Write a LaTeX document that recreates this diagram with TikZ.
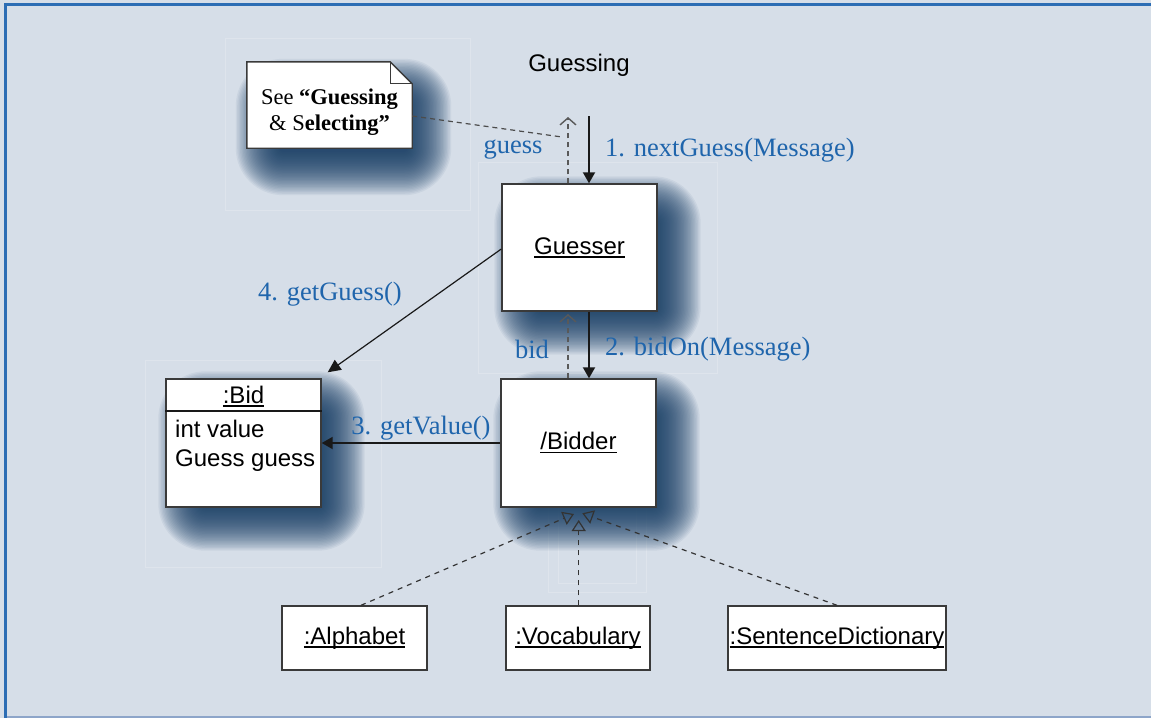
\documentclass[tikz,border=0pt]{standalone}
\usepackage{fontspec}
\setmainfont{Liberation Serif}
\setsansfont{Liberation Sans}
\usetikzlibrary{arrows.meta,calc}
\definecolor{bgc}{HTML}{D6DEE8}
\definecolor{frameblue}{HTML}{2C6DB4}
\definecolor{framelight}{HTML}{8DA5C9}
\definecolor{lab}{HTML}{1F65AC}
\definecolor{shad}{HTML}{123A62}
\definecolor{boxline}{HTML}{3A3A3A}
\pgfdeclarelayer{bgfill}
\pgfdeclarelayer{shadowlayer}
\pgfsetlayers{bgfill,shadowlayer,main}
\newcommand\uln[1]{\setbox0\hbox{#1}\rlap{\rule[-3.5pt]{\wd0}{1.4pt}}\box0}
\newcommand\dropshadow[3]{%
  \foreach \k in {0,...,31}{%
    \pgfmathsetmacro\e{25-1.4*\k}%
    \pgfmathsetmacro\rc{max(1,\e+22)}%
    \fill[shad, fill opacity=0.058, rounded corners=\rc pt]
      ($(#1.north west)+(#2-\e,#3-\e)$) rectangle ($(#1.south east)+(#2+\e,#3+\e)$);
  }}
\begin{document}
\begin{tikzpicture}[x=1pt,y=-1pt,
  obj/.style={draw=boxline, line width=1.4pt, fill=white, inner sep=0pt,
    font=\sffamily\fontsize{24}{28}\selectfont},
  lbl/.style={text=lab, inner sep=0pt, font=\fontsize{26.5}{30}\selectfont},
  msg/.style={draw=black!90, line width=1.9pt, -{Triangle[length=11pt,width=12pt]}},
  msgthin/.style={draw=black!90, line width=1.2pt, -{Triangle[length=13pt,width=12pt]}},
  ret/.style={draw=black!65, line width=1.4pt, dash pattern=on 5pt off 4pt,
    -{Straight Barb[length=7pt,width=16pt]}},
  notelink/.style={draw=black!70, line width=1.2pt, dash pattern=on 5pt off 4pt},
  real/.style={draw=black!80, line width=1.2pt, dash pattern=on 5pt off 5pt,
    -{Triangle[open,length=11pt,width=14pt]}},
  faint/.style={draw=white, draw opacity=0.2, line width=0.8pt}]
\useasboundingbox (0,0) rectangle (1151,718);
\begin{pgfonlayer}{bgfill}
  \fill[bgc] (0,0) rectangle (1151,718);
  \fill[frameblue] (4,3) rectangle (1151,6);
  \fill[frameblue] (4,3) rectangle (7,718);
  \fill[framelight] (7,716) rectangle (1151,718);
  \draw[faint] (225,38) rectangle (470,210);
  \draw[faint] (478,162) rectangle (717,373);
  \draw[faint] (145,360) rectangle (381,567);
  \draw[faint] (548,505) rectangle (646,592);
  \draw[faint] (558,505) rectangle (636,583);
\end{pgfonlayer}

% title
\node[font=\sffamily\fontsize{24}{28}\selectfont, inner sep=0pt] (title) at (579,65) {Guessing};

% note
\node[minimum width=165pt, minimum height=86pt, inner sep=0pt] (note) at (329.5,105) {};
\draw[draw=boxline, line width=1.4pt, fill=white]
  (note.north west) -- ($(note.north east)+(-22,0)$) -- ($(note.north east)+(0,22)$)
  -- (note.south east) -- (note.south west) -- cycle;
\draw[draw=boxline, line width=1.2pt] ($(note.north east)+(-22,0)$) |- ($(note.north east)+(0,22)$);
\node[font=\fontsize{22.5}{26}\selectfont, align=center, inner sep=0pt] (notetext) at (329.5,112)
  {See \textbf{\char"201C Guessing}\\\& S\textbf{electing\char"201D}};

% objects
\node[obj, minimum width=155pt, minimum height=127pt] (guesser) at (579.5,247.5) {\uln{Guesser}};
\node[obj, minimum width=155pt, minimum height=128pt] (bidder) at (578.5,443) {\uln{/Bidder}};
\node[obj, minimum width=155pt, minimum height=128pt] (bid) at (243.5,443) {};
\draw[draw=black!90, line width=1.6pt] (bid.west |- 0,411) -- (bid.east |- 0,411);
\node[font=\sffamily\fontsize{24}{28}\selectfont, inner sep=0pt, anchor=base] (bidname) at (243.5,403) {\uln{:Bid}};
\node[font=\sffamily\fontsize{24}{28}\selectfont, inner sep=0pt, anchor=base west] (bidattr1) at (175,437) {int value};
\node[font=\sffamily\fontsize{24}{28}\selectfont, inner sep=0pt, anchor=base west] (bidattr2) at (175,466) {Guess guess};

\node[obj, minimum width=145pt, minimum height=64pt] (alpha) at (354.5,638) {\uln{:Alphabet}};
\node[obj, minimum width=144pt, minimum height=64pt] (voc) at (578,638) {\uln{:Vocabulary}};
\node[obj, minimum width=218pt, minimum height=64pt] (sdict) at (837,638) {\uln{:SentenceDictionary}};

% shadows
\begin{pgfonlayer}{shadowlayer}
  \dropshadow{note}{14}{22}
  \dropshadow{guesser}{18}{18}
  \dropshadow{bidder}{18}{18}
  \dropshadow{bid}{18}{18}
\end{pgfonlayer}

% coordinates
\coordinate (m1s) at (589,116);
\coordinate (r1e) at (568,117);
\coordinate (r2e) at (568,314);
\coordinate (nl) at (note.east |- 0,116);
\coordinate (nle) at (562,137);
\coordinate (m4e) at ($(bid.north east)+(6,-6)$);
\coordinate (tL) at (574,514);
\coordinate (tM) at (578.7,520);
\coordinate (tR) at (582.3,513.3);

% messages
\draw[msg] (m1s) -- (m1s |- guesser.north);
\draw[ret] (r1e |- guesser.north) -- (r1e);
\draw[notelink] (nl) -- (nle);
\draw[msg] (guesser.south -| m1s) -- (bidder.north -| m1s);
\draw[ret] (bidder.north -| r2e) -- (r2e);
\draw[msg] (bidder.west) -- (bid.east);
\draw[msgthin] ($(guesser.west)+(0,1.5)$) -- (m4e);

% realizations
\draw[real] ($(alpha.north)+(6.5,0)$) -- (tL);
\draw[real] (voc.north -| tM) -- (tM);
\draw[real] (sdict.north) -- (tR);

% labels
\node[lbl] (lguess) at (513,150) {guess};
\node[lbl, anchor=west] (l1) at (605,150) {1. nextGuess(Message)};
\node[lbl] (lbidr) at (532,349) {bid};
\node[lbl, anchor=west] (l2) at (605,349) {2. bidOn(Message)};
\node[lbl] (l3) at (421,428) {3. getValue()};
\node[lbl] (l4) at (330,294) {4. getGuess()};
\end{tikzpicture}
\end{document}
